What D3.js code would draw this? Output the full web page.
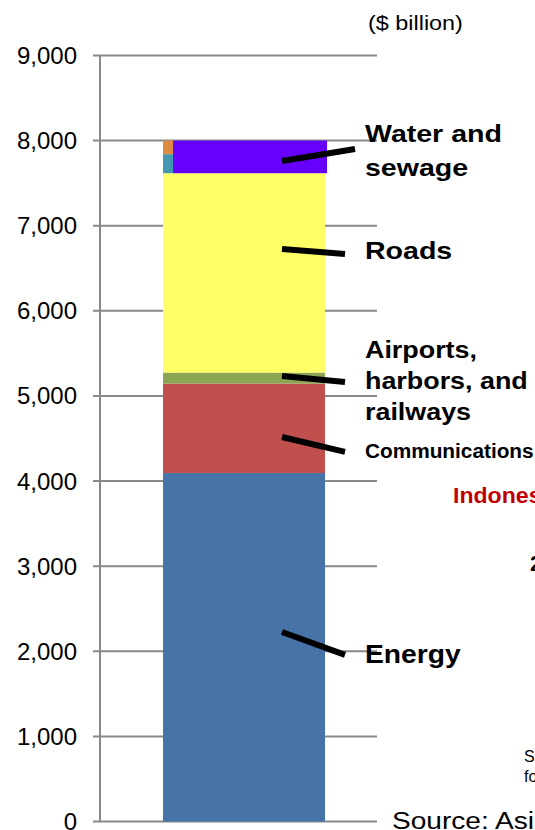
<!DOCTYPE html>
<html>
<head>
<meta charset="utf-8">
<script src="https://cdn.jsdelivr.net/npm/d3@7"></script>
<style>
  html, body { margin: 0; padding: 0; background: #fff; }
  svg { display: block; }
</style>
</head>
<body>
<svg id="chart" width="535" height="830"></svg>
<script>
// Investment by sector, stacked into one bar ($ billion)
const groups = ["Total"];
const sectors = ["Energy", "Communications", "Airports, harbors, and railways", "Roads", "Water and sewage"];
const sectorValues = [4095, 1050, 130, 2342, 383];
const sectorColors = ["#4674a9", "#c0504d", "#8ba552", "#ffff66", "#6600ff"];

// Water and sewage split shown as a thin strip on the left edge of its segment
const waterParts = ["Water supply", "Sewerage"];
const waterPartValues = [224, 159];
const waterPartColors = ["#4198b0", "#de8a43"];

const yTicks = [0, 1000, 2000, 3000, 4000, 5000, 6000, 7000, 8000, 9000];

// Callout labels: text lines and the value range their leader line spans
const calloutSector = ["Water and sewage", "Roads", "Airports, harbors, and railways", "Communications", "Energy"];
const calloutLines = [["Water and", "sewage"], ["Roads"], ["Airports,", "harbors, and", "railways"], ["Communications"], ["Energy"]];
const calloutFrom = [7761, 6727, 5235, 4518, 2227];
const calloutTo = [7902, 6668, 5165, 4342, 1957];

const svg = d3.select("#chart");

const y = d3.scaleLinear().domain([0, 9000]).range([821.5, 55.5]);
const x = d3.scaleBand().domain(groups).range([100, 377])
  .paddingInner(0).paddingOuter(0.355).align(0.548);

const gridColor = "#898989";

// Gridlines with short left ticks
svg.append("g").selectAll("line").data(yTicks).join("line")
  .attr("x1", 93).attr("x2", 377)
  .attr("y1", d => y(d)).attr("y2", d => y(d))
  .attr("stroke", gridColor).attr("stroke-width", 2);

// Vertical axis line
svg.append("line")
  .attr("x1", 100).attr("x2", 100)
  .attr("y1", y(9000)).attr("y2", y(0))
  .attr("stroke", gridColor).attr("stroke-width", 2);

// Tick labels
const fmt = d3.format(",");
svg.append("g").selectAll("text").data(yTicks).join("text")
  .attr("x", 77).attr("y", d => y(d))
  .attr("text-anchor", "end").attr("dominant-baseline", "central")
  .attr("font-family", "Liberation Sans, Arial, sans-serif")
  .attr("font-size", 24).attr("fill", "#000")
  .text(d => fmt(d));

// Stacked segments
const row = {};
sectors.forEach((s, i) => row[s] = sectorValues[i]);
const stack = d3.stack().keys(sectors)([row]);

const bx = x("Total"), bw = x.bandwidth();
const strip = 10;

svg.append("g").selectAll("rect").data(stack).join("rect")
  .attr("x", d => d.key === "Water and sewage" ? bx + strip : bx)
  .attr("width", d => d.key === "Water and sewage" ? bw - strip + 2 : bw)
  .attr("y", d => y(d[0][1]))
  .attr("height", d => y(d[0][0]) - y(d[0][1]))
  .attr("fill", (d, i) => sectorColors[i]);

// Left strip of the water and sewage segment
const waterBase = stack.find(s => s.key === "Water and sewage")[0][0];
const wRow = {};
waterParts.forEach((p, i) => wRow[p] = waterPartValues[i]);
const wStack = d3.stack().keys(waterParts)([wRow]);
svg.append("g").selectAll("rect").data(wStack).join("rect")
  .attr("x", bx).attr("width", strip)
  .attr("y", d => y(waterBase + d[0][1]))
  .attr("height", d => y(waterBase + d[0][0]) - y(waterBase + d[0][1]))
  .attr("fill", (d, i) => waterPartColors[i]);

// Leader lines
const leaderX1 = 282, leaderX2 = 345;
svg.append("g").selectAll("line").data(calloutSector).join("line")
  .attr("x1", leaderX1).attr("x2", (d, i) => i === 0 ? 355 : leaderX2)
  .attr("y1", (d, i) => y(calloutFrom[i]))
  .attr("y2", (d, i) => y(calloutTo[i]))
  .attr("stroke", "#000").attr("stroke-width", 6);

// Callout text
const labelFont = "Liberation Sans, Arial, sans-serif";
const calloutBaselines = [[142, 176], [259], [358, 389, 420], [458], [663]];
const calloutSizes = [24, 24, 24, 20, 25];
const calloutStretch = [1.19, 1.19, 1.12, 1.04, 1.13];
calloutLines.forEach((lines, i) => {
  lines.forEach((t, j) => {
    svg.append("text")
      .attr("transform", `translate(365,${calloutBaselines[i][j]}) scale(${calloutStretch[i]},1)`)
      .attr("font-family", labelFont).attr("font-weight", "bold")
      .attr("font-size", calloutSizes[i]).attr("fill", "#000")
      .text(t);
  });
});

// Unit note
svg.append("text")
  .attr("transform", "translate(368,30) scale(1.17,1)")
  .attr("font-family", labelFont).attr("font-size", 20).attr("fill", "#000")
  .text("($ billion)");

// Side titles and notes running off the right edge
svg.append("text")
  .attr("transform", "translate(453,503) scale(1.05,1)")
  .attr("font-family", labelFont).attr("font-weight", "bold")
  .attr("font-size", 22).attr("fill", "#c00000")
  .text("Indonesia");

svg.append("text")
  .attr("x", 530).attr("y", 571)
  .attr("font-family", labelFont).attr("font-weight", "bold")
  .attr("font-size", 22).attr("fill", "#000")
  .text("2");

svg.append("text")
  .attr("x", 524).attr("y", 762)
  .attr("font-family", labelFont).attr("font-size", 16).attr("fill", "#000")
  .text("Source");

svg.append("text")
  .attr("x", 524).attr("y", 782)
  .attr("font-family", labelFont).attr("font-size", 16).attr("fill", "#000")
  .text("for");

svg.append("text")
  .attr("transform", "translate(392,829) scale(1.17,1)")
  .attr("font-family", labelFont).attr("font-size", 24).attr("fill", "#000")
  .text("Source: Asian Development Bank");
</script>
</body>
</html>
